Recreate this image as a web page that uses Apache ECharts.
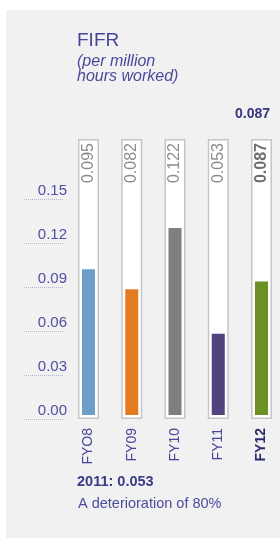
<!DOCTYPE html>
<html>
<head>
<meta charset="utf-8">
<script src="https://cdn.jsdelivr.net/npm/echarts@6/dist/echarts.min.js"></script>
<style>
html,body{margin:0;padding:0;background:#fff;}
#chart{width:280px;height:540px;}
</style>
</head>
<body>
<div id="chart"></div>
<script>
// ---- data ----
var categories = ['FYO8', 'FY09', 'FY10', 'FY11', 'FY12'];
var values = [0.095, 0.082, 0.122, 0.053, 0.087];
var barColors = ['#6b9fc9', '#e27c1f', '#7f7f7f', '#51437e', '#6b9024'];
var yTickValues = [0, 0.03, 0.06, 0.09, 0.12, 0.15];
var titleText = 'FIFR';
var subtitleText = '(per million\nhours worked)';
var latestText = '0.087';
var noteBold = '2011: 0.053';
var noteText = 'A deterioration of 80%';

var FONT = '"Liberation Sans", Arial, Helvetica, sans-serif';
var last = categories.length - 1;
var frameMax = 1;
var frameData = values.map(function () { return frameMax; });

var chart = echarts.init(document.getElementById('chart'), null, {renderer: 'canvas'});

var option = {
  backgroundColor: 'transparent',
  animation: false,
  textStyle: {fontFamily: FONT},
  graphic: [{
    type: 'rect', left: 6, top: 10, z: -10, silent: true,
    shape: {width: 274, height: 528},
    style: {fill: '#f1f1f1'}
  }],
  title: [
    {text: titleText, left: 77, top: 31, padding: 0,
     textStyle: {fontFamily: FONT, fontSize: 19, fontWeight: 'normal', color: '#45459a'}},
    {text: subtitleText, left: 77, top: 54, padding: 0,
     textStyle: {fontFamily: FONT, fontSize: 16, fontStyle: 'italic', fontWeight: 'normal', color: '#4a4a9c', lineHeight: 15}},
    {text: latestText, right: 10, top: 107, padding: 0,
     textStyle: {fontFamily: FONT, fontSize: 14, fontWeight: 'bold', color: '#35357f'}},
    {text: noteBold, left: 77, top: 474, padding: 0,
     textStyle: {fontFamily: FONT, fontSize: 14.5, fontWeight: 'bold', color: '#3a3a86'}},
    {text: noteText, left: 78, top: 496, padding: 0,
     textStyle: {fontFamily: FONT, fontSize: 14.5, fontWeight: 'normal', color: '#4c4c9e'}}
  ],
  grid: [
    {left: 88.5, right: 18.5, top: 139, bottom: 121, containLabel: false},
    {left: 88.5, right: 18.5, top: 139, bottom: 125, containLabel: false},
    {left: 24, right: 216, top: 199, bottom: 121, containLabel: false}
  ],
  xAxis: [
    {type: 'category', gridIndex: 0, data: categories, boundaryGap: false,
     axisLine: {show: false}, axisTick: {show: false}, splitLine: {show: false},
     axisLabel: {rotate: 90, margin: 9, fontSize: 14, fontFamily: FONT,
       color: function (v, i) { return i === last ? '#2b2b70' : '#45459a'; },
       formatter: function (v, i) { return i === last ? '{b|' + v + '}' : v; },
       rich: {b: {fontWeight: 'bold', fontSize: 14, color: '#2b2b70', fontFamily: FONT}}
     }},
    {type: 'category', gridIndex: 1, data: categories, boundaryGap: false, show: false},
    {type: 'value', gridIndex: 2, min: 0, max: 1, show: false}
  ],
  yAxis: [
    {type: 'value', gridIndex: 0, min: 0, max: frameMax, show: false},
    {type: 'value', gridIndex: 1, min: 0, max: 0.18, show: false},
    {type: 'value', gridIndex: 2, min: 0, max: yTickValues[yTickValues.length - 1], interval: 0.03,
     position: 'right',
     axisLine: {show: false}, axisTick: {show: false},
     axisLabel: {align: 'right', margin: 3, verticalAlign: 'bottom', fontSize: 15, fontFamily: FONT,
       color: '#4e4ea2', padding: [0, 0, 1, 0],
       formatter: function (v) { return v.toFixed(2); }},
     splitLine: {show: true, lineStyle: {type: 'dotted', color: '#b4b4d4', width: 1}}}
  ],
  series: [
    {type: 'bar', xAxisIndex: 0, yAxisIndex: 0, data: frameData, barWidth: 21, z: 1,
     itemStyle: {color: '#ffffff', borderColor: '#c6c6c6', borderWidth: 1.5},
     label: {show: true, position: 'insideTop', distance: 4, rotate: 90, align: 'right', verticalAlign: 'middle',
       fontSize: 16, fontFamily: FONT, color: '#8c8c8c',
       formatter: function (p) {
         var t = values[p.dataIndex].toFixed(3);
         return p.dataIndex === last ? '{b|' + t + '}' : t;
       },
       rich: {b: {fontWeight: 'bold', fontSize: 16, color: '#6e6e6e', fontFamily: FONT}}
     }},
    {type: 'bar', xAxisIndex: 1, yAxisIndex: 1, barWidth: 13, z: 3,
     data: values.map(function (v, i) { return {value: v, itemStyle: {color: barColors[i]}}; })},
    {type: 'scatter', xAxisIndex: 2, yAxisIndex: 2, data: [], silent: true}
  ]
};
chart.setOption(option);
</script>
</body>
</html>
